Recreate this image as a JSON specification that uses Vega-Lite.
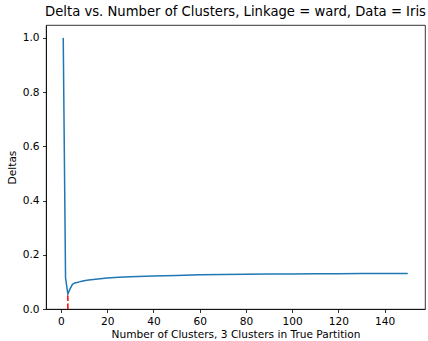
{
  "$schema": "https://vega.github.io/schema/vega-lite/v6.json",
  "width": 379,
  "height": 284,
  "autosize": "none",
  "padding": {"left": 46, "top": 25, "right": 3, "bottom": 32},
  "background": "white",
  "title": {
    "text": "Delta vs. Number of Clusters, Linkage = ward, Data = Iris",
    "font": "DejaVu Sans",
    "fontSize": 13.2,
    "fontWeight": "normal",
    "color": "black",
    "anchor": "middle",
    "offset": 6
  },
  "datasets": {
    "delta": [
      {"clusters": 1, "delta": 1.0},
      {"clusters": 2, "delta": 0.115},
      {"clusters": 3, "delta": 0.055},
      {"clusters": 4, "delta": 0.075},
      {"clusters": 5, "delta": 0.091},
      {"clusters": 6, "delta": 0.096},
      {"clusters": 7, "delta": 0.098},
      {"clusters": 8, "delta": 0.100},
      {"clusters": 9, "delta": 0.102},
      {"clusters": 10, "delta": 0.104},
      {"clusters": 12, "delta": 0.107},
      {"clusters": 15, "delta": 0.110},
      {"clusters": 20, "delta": 0.114},
      {"clusters": 25, "delta": 0.117},
      {"clusters": 30, "delta": 0.119},
      {"clusters": 40, "delta": 0.122},
      {"clusters": 50, "delta": 0.124},
      {"clusters": 60, "delta": 0.126},
      {"clusters": 70, "delta": 0.127},
      {"clusters": 80, "delta": 0.128},
      {"clusters": 90, "delta": 0.129},
      {"clusters": 100, "delta": 0.129},
      {"clusters": 110, "delta": 0.130},
      {"clusters": 120, "delta": 0.130},
      {"clusters": 130, "delta": 0.131},
      {"clusters": 140, "delta": 0.131},
      {"clusters": 150, "delta": 0.131}
    ],
    "marker": [
      {"clusters": 3, "low": 0, "high": 0.055}
    ]
  },
  "layer": [
    {
      "data": {"name": "delta"},
      "mark": {"type": "line", "color": "#1f77b4", "strokeWidth": 1.5, "clip": true},
      "encoding": {
        "x": {
          "field": "clusters",
          "type": "quantitative",
          "scale": {"domain": [-6.45, 157.45], "nice": false, "zero": false},
          "axis": {"values": [0, 20, 40, 60, 80, 100, 120, 140], "title": "Number of Clusters, 3 Clusters in True Partition", "format": "d"}
        },
        "y": {
          "field": "delta",
          "type": "quantitative",
          "scale": {"domain": [0, 1.0475], "nice": false},
          "axis": {"values": [0, 0.2, 0.4, 0.6, 0.8, 1.0], "title": "Deltas", "format": ".1f"}
        }
      }
    },
    {
      "data": {"name": "marker"},
      "mark": {"type": "rule", "color": "red", "strokeWidth": 1.5, "strokeDash": [5.5, 2.4]},
      "encoding": {
        "x": {"field": "clusters", "type": "quantitative"},
        "y": {"field": "low", "type": "quantitative"},
        "y2": {"field": "high"}
      }
    }
  ],
  "config": {
    "view": {"stroke": "black", "strokeWidth": 0.8},
    "axis": {
      "grid": false,
      "domainColor": "black",
      "domainWidth": 0.8,
      "tickColor": "black",
      "tickWidth": 0.8,
      "tickSize": 3.5,
      "labelPadding": 3.5,
      "labelFont": "DejaVu Sans",
      "labelFontSize": 10.6,
      "labelColor": "black",
      "titleFont": "DejaVu Sans",
      "titleFontSize": 10.6,
      "titleFontWeight": "normal",
      "titleColor": "black"
    },
    "axisX": {"titlePadding": 3, "labelFlush": false},
    "axisY": {"titlePadding": 5, "labelFlush": false}
  }
}
